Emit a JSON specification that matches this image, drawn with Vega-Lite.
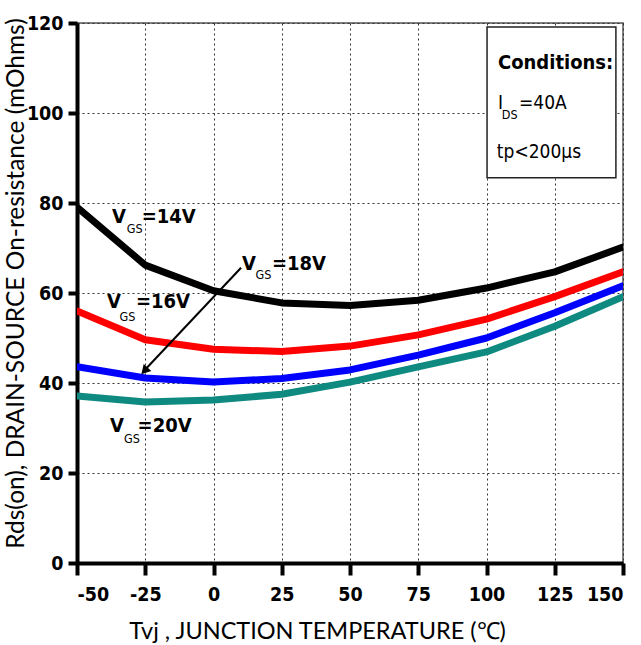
{
  "$schema": "https://vega.github.io/schema/vega-lite/v6.json",
  "width": 546,
  "height": 540,
  "autosize": "none",
  "padding": {"left": 77, "top": 23, "right": 18, "bottom": 82},
  "background": "white",
  "config": {
    "view": {"stroke": "#555", "strokeWidth": 1.5},
    "axis": {
      "grid": true,
      "gridColor": "#333",
      "gridDash": [2, 3],
      "gridWidth": 1,
      "domainColor": "black",
      "domainWidth": 4,
      "tickColor": "black",
      "tickWidth": 4,
      "labelFont": "DejaVu Sans Condensed",
      "labelFontWeight": "bold",
      "labelFontSize": 19.5,
      "labelColor": "black",
      "labelOverlap": false,
      "labelExpr": "replace(datum.label, '−', '-')",
      "titleFont": "Lato",
      "titleFontWeight": "normal",
      "titleFontSize": 23.5,
      "titleColor": "black"
    }
  },
  "datasets": {
    "curves": [
      {"T": -50, "R": 79.1, "vgs": "14V"},
      {"T": -25, "R": 66.2, "vgs": "14V"},
      {"T": 0, "R": 60.5, "vgs": "14V"},
      {"T": 25, "R": 57.8, "vgs": "14V"},
      {"T": 50, "R": 57.2, "vgs": "14V"},
      {"T": 75, "R": 58.4, "vgs": "14V"},
      {"T": 100, "R": 61.1, "vgs": "14V"},
      {"T": 125, "R": 64.7, "vgs": "14V"},
      {"T": 150, "R": 70.2, "vgs": "14V"},
      {"T": -50, "R": 56.0, "vgs": "16V"},
      {"T": -25, "R": 49.6, "vgs": "16V"},
      {"T": 0, "R": 47.5, "vgs": "16V"},
      {"T": 25, "R": 47.0, "vgs": "16V"},
      {"T": 50, "R": 48.2, "vgs": "16V"},
      {"T": 75, "R": 50.7, "vgs": "16V"},
      {"T": 100, "R": 54.2, "vgs": "16V"},
      {"T": 125, "R": 59.2, "vgs": "16V"},
      {"T": 150, "R": 64.7, "vgs": "16V"},
      {"T": -50, "R": 43.6, "vgs": "18V"},
      {"T": -25, "R": 41.1, "vgs": "18V"},
      {"T": 0, "R": 40.2, "vgs": "18V"},
      {"T": 25, "R": 41.0, "vgs": "18V"},
      {"T": 50, "R": 42.9, "vgs": "18V"},
      {"T": 75, "R": 46.2, "vgs": "18V"},
      {"T": 100, "R": 50.0, "vgs": "18V"},
      {"T": 125, "R": 55.6, "vgs": "18V"},
      {"T": 150, "R": 61.6, "vgs": "18V"},
      {"T": -50, "R": 37.1, "vgs": "20V"},
      {"T": -25, "R": 35.8, "vgs": "20V"},
      {"T": 0, "R": 36.2, "vgs": "20V"},
      {"T": 25, "R": 37.5, "vgs": "20V"},
      {"T": 50, "R": 40.2, "vgs": "20V"},
      {"T": 75, "R": 43.6, "vgs": "20V"},
      {"T": 100, "R": 46.9, "vgs": "20V"},
      {"T": 125, "R": 52.6, "vgs": "20V"},
      {"T": 150, "R": 59.2, "vgs": "20V"}
    ],
    "bigText": [
      {"T": -37.2, "R": 75.6, "label": "V"},
      {"T": -26.3, "R": 75.6, "label": "=14V"},
      {"T": -39.0, "R": 56.7, "label": "V"},
      {"T": -28.4, "R": 56.7, "label": "=16V"},
      {"T": 10.4, "R": 65.1, "label": "V"},
      {"T": 21.4, "R": 65.1, "label": "=18V"},
      {"T": -37.9, "R": 29.1, "label": "V"},
      {"T": -27.8, "R": 29.1, "label": "=20V"}
    ],
    "subText": [
      {"T": -31.8, "R": 73.3, "label": "GS"},
      {"T": -34.4, "R": 53.8, "label": "GS"},
      {"T": 15.4, "R": 63.1, "label": "GS"},
      {"T": -32.8, "R": 26.7, "label": "GS"},
      {"T": 105.6, "R": 98.7, "label": "DS"}
    ],
    "condText": [
      {"T": 104.2, "R": 100.9, "label": "I"},
      {"T": 111.9, "R": 100.9, "label": "=40A"},
      {"T": 103.8, "R": 90.0, "label": "tp<200µs"}
    ],
    "condTitle": [
      {"T": 104.2, "R": 109.8, "label": "Conditions:"}
    ],
    "box": [
      {"T": 100.2, "T2": 147.4, "R": 119.1, "R2": 85.6}
    ],
    "arrow": [
      {"T": 10.1, "R": 65.6, "T2": -25.0, "R2": 43.0}
    ],
    "arrowHead": [
      {"T": -25.3, "R": 42.7}
    ]
  },
  "layer": [
    {
      "data": {"name": "curves"},
      "mark": {"type": "line", "strokeWidth": 7, "strokeJoin": "round", "strokeCap": "round", "clip": true},
      "encoding": {
        "x": {
          "field": "T", "type": "quantitative",
          "scale": {"domain": [-50, 150], "nice": false},
          "axis": {
            "values": [-50, -25, 0, 25, 50, 75, 100, 125, 150],
            "tickSize": 12, "labelPadding": 10,
            "title": "Tvj , JUNCTION TEMPERATURE (℃)",
            "titleX": 240, "titleY": 75, "titleAlign": "center", "titleBaseline": "alphabetic", "titleAnchor": null
          }
        },
        "y": {
          "field": "R", "type": "quantitative",
          "scale": {"domain": [0, 120], "nice": false},
          "axis": {
            "values": [0, 20, 40, 60, 80, 100, 120],
            "tickSize": 9, "labelPadding": 5,
            "title": "Rds(on), DRAIN-SOURCE On-resistance (mOhms)",
            "titleFontSize": 24.5,
            "titleAngle": -90, "titleX": -61, "titleY": 260, "titleAlign": "center", "titleBaseline": "middle", "titleAnchor": null
          }
        },
        "color": {
          "field": "vgs", "type": "nominal",
          "scale": {"domain": ["14V", "16V", "18V", "20V"], "range": ["#000000", "#ff0000", "#0000ff", "#0f8a80"]},
          "legend": null
        }
      }
    },
    {
      "data": {"name": "box"},
      "mark": {"type": "rect", "fill": "white", "stroke": "#222", "strokeWidth": 1.5},
      "encoding": {
        "x": {"field": "T", "type": "quantitative"},
        "x2": {"field": "T2"},
        "y": {"field": "R", "type": "quantitative"},
        "y2": {"field": "R2"}
      }
    },
    {
      "data": {"name": "arrow"},
      "mark": {"type": "rule", "strokeWidth": 2, "color": "black"},
      "encoding": {
        "x": {"field": "T", "type": "quantitative"},
        "x2": {"field": "T2"},
        "y": {"field": "R", "type": "quantitative"},
        "y2": {"field": "R2"}
      }
    },
    {
      "data": {"name": "arrowHead"},
      "mark": {"type": "point", "shape": "triangle-up", "angle": 223, "filled": true, "color": "black", "size": 110, "opacity": 1},
      "encoding": {
        "x": {"field": "T", "type": "quantitative"},
        "y": {"field": "R", "type": "quantitative"}
      }
    },
    {
      "data": {"name": "bigText"},
      "mark": {"type": "text", "align": "left", "baseline": "alphabetic", "fontSize": 20, "fontWeight": "bold", "font": "DejaVu Sans Condensed", "color": "black"},
      "encoding": {
        "x": {"field": "T", "type": "quantitative"},
        "y": {"field": "R", "type": "quantitative"},
        "text": {"field": "label"}
      }
    },
    {
      "data": {"name": "subText"},
      "mark": {"type": "text", "align": "left", "baseline": "alphabetic", "fontSize": 12.5, "font": "DejaVu Sans Condensed", "color": "black"},
      "encoding": {
        "x": {"field": "T", "type": "quantitative"},
        "y": {"field": "R", "type": "quantitative"},
        "text": {"field": "label"}
      }
    },
    {
      "data": {"name": "condText"},
      "mark": {"type": "text", "align": "left", "baseline": "alphabetic", "fontSize": 19, "font": "DejaVu Sans Condensed", "color": "black"},
      "encoding": {
        "x": {"field": "T", "type": "quantitative"},
        "y": {"field": "R", "type": "quantitative"},
        "text": {"field": "label"}
      }
    },
    {
      "data": {"name": "condTitle"},
      "mark": {"type": "text", "align": "left", "baseline": "alphabetic", "fontSize": 20, "fontWeight": "bold", "font": "DejaVu Sans Condensed", "color": "black"},
      "encoding": {
        "x": {"field": "T", "type": "quantitative"},
        "y": {"field": "R", "type": "quantitative"},
        "text": {"field": "label"}
      }
    }
  ]
}
